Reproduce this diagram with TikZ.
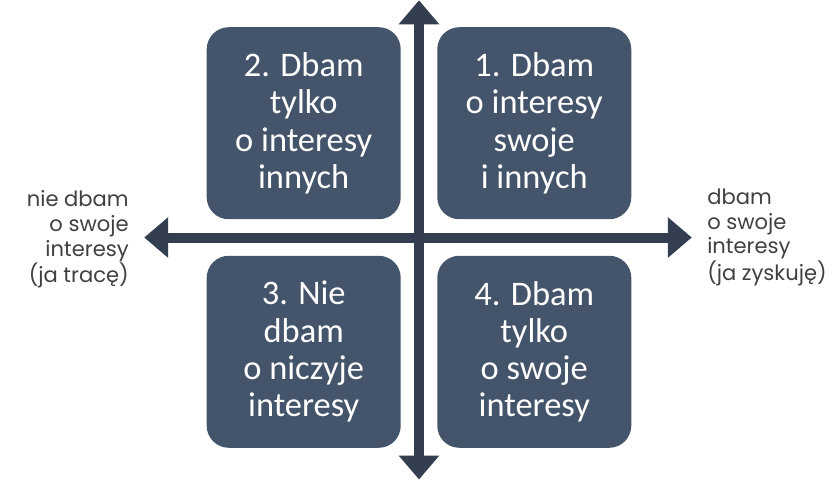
\documentclass[tikz,border=0pt]{standalone}
\usepackage{fontspec}
\setmainfont{Carlito}
\newfontfamily\labelfont{Poppins}
\usetikzlibrary{arrows.meta, positioning}
\definecolor{QuadSlate}{RGB}{68, 84, 106}
\definecolor{AxisSlate}{RGB}{51, 63, 80}
\definecolor{LabelGrey}{RGB}{64, 64, 64}

\begin{document}
\begin{tikzpicture}[
    % Spacing
    node distance=0.45cm and 0.45cm,
    % --- STYLES ---
    % Quadrant: rounded slate box, white text
    quad/.style={
        rectangle,
        rounded corners=0.55cm,
        fill=QuadSlate,
        text=white,
        align=center,
        minimum width=4.85cm,
        minimum height=4.8cm,
        font=\fontsize{24.5}{26.5}\selectfont
    },
    % Side labels: grey geometric sans
    side/.style={
        text=LabelGrey,
        inner sep=0pt,
        font=\labelfont\fontsize{15}{17.5}\selectfont
    },
    % Axes: thick shaft, wide triangle tips
    axis/.style={
        line width=0.25cm,
        color=AxisSlate,
        {Triangle[length=0.6cm, width=0.98cm]}-{Triangle[length=0.6cm, width=0.98cm]}
    }
]

\useasboundingbox (-10.475,-6.0625) rectangle (10.525,5.9375);

% --- CENTRE AND AXIS ENDS ---
\coordinate (origin) at (0,0);
\coordinate (top) at (0,5.93);
\coordinate (bottom) at (0,-6.05);
\coordinate (left) at (-6.87,0);
\coordinate (right) at (6.82,0);

% --- QUADRANTS ---
\node (both) [quad, above right=of origin] {1. Dbam\\o interesy\\swoje\\i innych};
\node (others) [quad, above left=of origin] {2. Dbam\\tylko\\o interesy\\innych};
\node (none) [quad, below left=of origin] {3. Nie\\dbam\\o niczyje\\interesy};
\node (self) [quad, below right=of origin] {4. Dbam\\tylko\\o swoje\\interesy};

% --- AXES ---
\draw [axis] (left) -- (right);
\draw [axis] (bottom) -- (top);

% --- SIDE LABELS ---
\node (loss) [side, align=right, left=0.38cm of left, yshift=-0.05cm] {nie dbam\\o swoje\\interesy\\(ja tracę)};
\node (gain) [side, align=left, right=0.38cm of right] {dbam\\o swoje\\interesy\\(ja zyskuję)};

\end{tikzpicture}
\end{document}
